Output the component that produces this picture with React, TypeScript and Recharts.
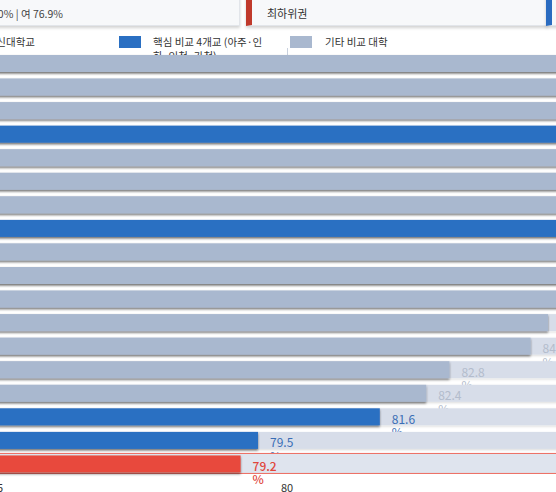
import React from "react";
import { Bar, BarChart, XAxis, YAxis } from "recharts";

// 학교별 지표 (위에서 아래로)
const schools = [
  "경희대학교",
  "한양대학교(ERICA)",
  "단국대학교",
  "아주대학교",
  "경기대학교",
  "명지대학교",
  "용인대학교",
  "인하대학교",
  "수원대학교",
  "강남대학교",
  "대진대학교",
  "평택대학교",
  "안양대학교",
  "성결대학교",
  "협성대학교",
  "인천대학교",
  "가천대학교",
  "한신대학교",
];
const rates = [
  93.2, 91.5, 89.8, 89.1, 88.4, 87.9, 87.3, 86.8, 86.2, 85.6, 85.0, 84.5, 84.2,
  82.8, 82.4, 81.6, 79.5, 79.2,
];
// target = 대상 학교, core = 핵심 비교 4개교, other = 기타
const groups = [
  "other", "other", "other", "core", "other", "other", "other", "core", "other",
  "other", "other", "other", "other", "other", "other", "core", "core", "target",
];
const xTicks = [75, 80, 85, 90, 95, 100];

const FONT = '"Noto Sans CJK KR", "Noto Sans", sans-serif';
const BAR_COLOR: Record<string, string> = {
  target: "#e84a3c",
  core: "#2a6fc2",
  other: "#a9b8cf",
};
const LABEL_COLOR: Record<string, string> = {
  target: "#e0463c",
  core: "#3a6db5",
  other: "#b3bccc",
};
const TRACK = "#d7dde9";

const data = schools.map((name, i) => ({ name, rate: rates[i], group: groups[i] }));

function RowShape(props: any) {
  const { x, y, width, height, payload, background } = props;
  const g = payload.group;
  const trackX = background ? background.x : x;
  const trackW = background ? background.width : width;
  const cy = y + height / 2 + 1.5;
  return (
    <g>
      {g === "target" ? (
        <rect
          x={trackX}
          y={y - 2}
          width={trackW}
          height={height + 3}
          fill="#dfe4ee"
          stroke="#ec6a60"
          strokeWidth={1}
        />
      ) : (
        <rect x={trackX} y={y} width={trackW} height={height} fill={TRACK} filter="url(#trackShadow)" />
      )}
      <rect x={x} y={y} width={width} height={height} fill={BAR_COLOR[g]} filter="url(#barShadow)" />
      <text
        x={x + width + 12}
        y={cy}
        dominantBaseline="central"
        fontSize={12}
        fontFamily={FONT}
        fontWeight={g === "target" ? 500 : 400}
        fill={LABEL_COLOR[g]}
      >
        {payload.rate.toFixed(1)}
      </text>
      <text
        x={x + width + 12}
        y={cy + 13.5}
        dominantBaseline="central"
        fontSize={12}
        fontFamily={FONT}
        fontWeight={g === "target" ? 500 : 400}
        fill={LABEL_COLOR[g]}
      >
        %
      </text>
    </g>
  );
}

const card: React.CSSProperties = {
  position: "absolute",
  top: -40,
  height: 66,
  background: "#f7f8fa",
  border: "1px solid #e2e5ea",
  boxSizing: "border-box",
  boxShadow: "0 2px 3px rgba(0,0,0,0.18)",
};

const swatch: React.CSSProperties = {
  position: "absolute",
  top: 36,
  width: 22,
  height: 12,
};

const legendText: React.CSSProperties = {
  position: "absolute",
  fontSize: 10.5,
  lineHeight: "14px",
  color: "#333",
  top: 35,
};

export default function App() {
  return (
    <div
      style={{
        position: "fixed",
        left: 0,
        top: 0,
        width: 556,
        height: 492,
        overflow: "hidden",
        background: "#fff",
        fontFamily: FONT,
      }}
    >
      {/* KPI 카드 */}
      <div style={{ ...card, left: -200, width: 440 }} />
      <div
        style={{
          position: "absolute",
          right: 493,
          top: 7,
          fontSize: 10.5,
          lineHeight: "14px",
          color: "#444",
          whiteSpace: "nowrap",
        }}
      >
        남 81.0% | 여 76.9%
      </div>
      <div style={{ ...card, left: 246, width: 302, borderLeft: "6px solid #c0392b" }}>
        <div
          style={{
            position: "absolute",
            left: 15,
            bottom: 5,
            fontSize: 11,
            lineHeight: "14px",
            color: "#333",
          }}
        >
          최하위권
        </div>
      </div>
      <div style={{ ...card, left: 546, width: 200, borderLeft: "6px solid #2a6bc0" }} />

      {/* 범례 */}
      <div style={{ ...swatch, left: -60, background: BAR_COLOR.target }} />
      <div style={{ ...legendText, right: 521, whiteSpace: "nowrap" }}>한신대학교</div>
      <div style={{ ...swatch, left: 119, background: BAR_COLOR.core }} />
      <div style={{ ...legendText, left: 153, width: 118 }}>
        핵심 비교 4개교 (아주·인하·인천·가천)
      </div>
      <div style={{ ...swatch, left: 290, background: BAR_COLOR.other }} />
      <div style={{ ...legendText, left: 325, whiteSpace: "nowrap" }}>기타 비교 대학</div>
      <div style={{ position: "absolute", left: 287, top: 48, width: 1, height: 8, background: "#c9d1de" }} />

      {/* 차트 */}
      <div style={{ position: "absolute", left: -113, top: 52 }}>
        <BarChart
          width={1580}
          height={454}
          data={data}
          layout="vertical"
          margin={{ top: 0, right: 20, bottom: 0, left: 0 }}
          barCategoryGap={3}
        >
          <defs>
            <filter id="barShadow" x="-5%" y="-40%" width="110%" height="200%">
              <feDropShadow dx={0} dy={1.6} stdDeviation={0.8} floodColor="#000" floodOpacity={0.5} />
            </filter>
            <filter id="trackShadow" x="-5%" y="-40%" width="110%" height="200%">
              <feDropShadow dx={0} dy={1.2} stdDeviation={0.8} floodColor="#000" floodOpacity={0.14} />
            </filter>
          </defs>
          <XAxis
            type="number"
            dataKey="rate"
            domain={[75, 100]}
            ticks={xTicks}
            axisLine={false}
            tickLine={false}
            height={30}
            tick={{ fontSize: 11, fill: "#333", fontFamily: FONT }}
          />
          <YAxis type="category" dataKey="name" width={110} axisLine={false} tickLine={false} />
          <Bar
            dataKey="rate"
            barSize={17}
            background={() => <g />}
            shape={RowShape}
            isAnimationActive={false}
          />
        </BarChart>
      </div>
    </div>
  );
}
